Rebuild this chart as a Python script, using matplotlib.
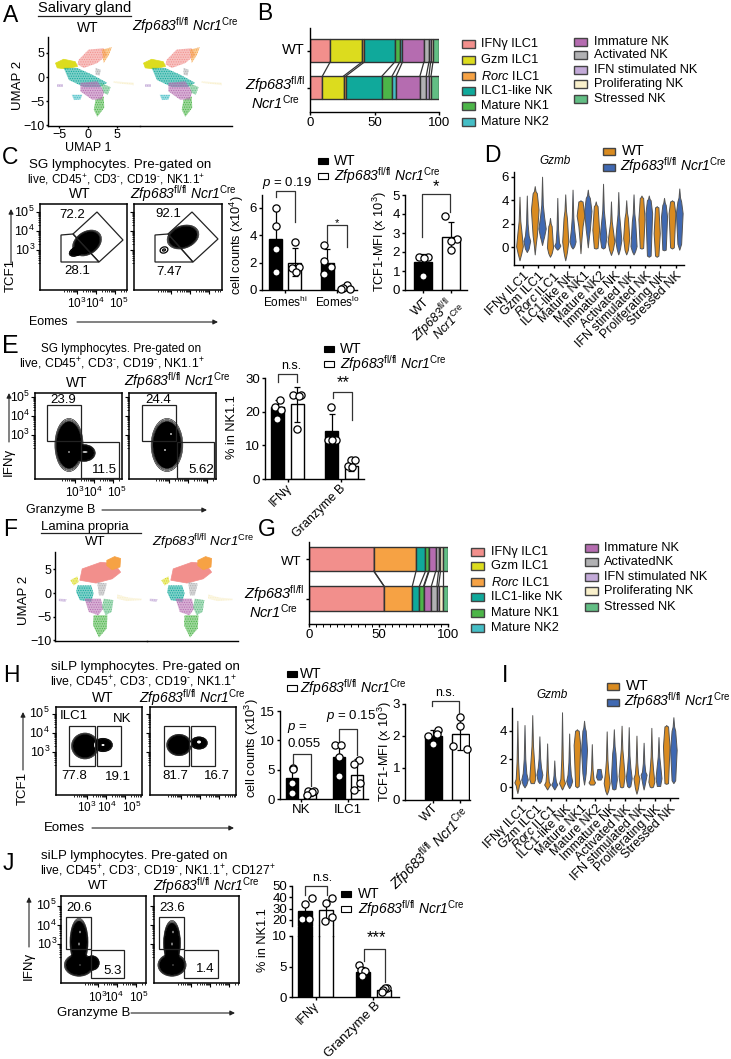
import numpy as np
import matplotlib
matplotlib.use('Agg')
import matplotlib.pyplot as plt
from matplotlib.colors import to_rgba
from matplotlib.patches import Ellipse, Polygon, Rectangle

plt.rcParams['font.family'] = ['Liberation Sans', 'DejaVu Sans']
plt.rcParams['mathtext.fontset'] = 'custom'
plt.rcParams['mathtext.rm'] = 'Liberation Sans'
plt.rcParams['mathtext.it'] = 'Liberation Sans:italic'
plt.rcParams['mathtext.sf'] = 'Liberation Sans:italic'
plt.rcParams['mathtext.bf'] = 'Liberation Sans:bold'
plt.rcParams['hatch.linewidth'] = 0.5

W, H = 731, 1059

# ---- cell types
cell_types = ['IFNγ ILC1', 'Gzm ILC1', 'Rorc ILC1', 'ILC1-like NK', 'Mature NK1', 'Mature NK2',
              'Immature NK', 'Activated NK', 'IFN stimulated NK', 'Proliferating NK', 'Stressed NK']
type_colors = ['#F28F8C', '#DCDC1E', '#F6A244', '#10A99B', '#4CB548', '#45BEC6',
               '#B56CB0', '#B1B1B3', '#C3AAD8', '#F9F0CB', '#62BE84']

# ---- stacked bars (percent of cells)
b_wt = [15.6, 24.7, 1.8, 23.6, 3.9, 2.1, 16.6, 3.9, 1.3, 1.8, 4.7]
b_ko = [9.6, 16.4, 1.8, 28.0, 7.8, 3.2, 18.4, 4.9, 2.1, 1.6, 6.2]
g_wt = [46.6, 0.2, 30.2, 6.8, 2.2, 0.4, 4.8, 2.0, 1.4, 1.7, 3.7]
g_ko = [54.0, 0.1, 20.2, 5.1, 3.0, 0.4, 5.2, 4.0, 1.2, 3.1, 3.7]

# ---- UMAP cluster outlines (UMAP units)
umap_sg = {
    'IFNγ ILC1': [(-1.6, 3.6), (0.1, 5.7), (2.7, 6.0), (3.3, 4.6), (1.6, 2.9), (-0.7, 1.9), (-1.8, 2.6)],
    'Gzm ILC1': [(-5.6, 2.9), (-4.2, 3.7), (-2.2, 3.2), (-1.8, 2.2), (-3.9, 1.7), (-5.3, 1.9)],
    'Rorc ILC1': [(2.4, 5.7), (4.1, 6.2), (3.6, 4.6), (2.7, 2.9)],
    'ILC1-like NK': [(-4.2, 1.9), (-1.9, 1.9), (0.7, 0.5), (3.3, -1.2), (2.1, -2.1), (-0.7, -2.1), (-3.3, -0.6)],
    'Mature NK1': [(1.3, -4.7), (2.7, -4.0), (2.8, -6.4), (1.6, -8.3), (1.0, -6.8)],
    'Mature NK2': [(-2.8, -3.7), (-1.0, -3.7), (-1.3, -4.7), (-2.4, -4.8)],
    'Immature NK': [(-1.3, -1.2), (1.6, -0.9), (2.8, -3.0), (2.4, -4.7), (0.7, -4.7), (-1.3, -3.0)],
    'Activated NK': [(1.3, 1.9), (2.2, 1.5), (2.0, 0.3), (1.3, 0.5)],
    'IFN stimulated NK': [(-5.3, -1.4), (-4.3, -1.4), (-4.3, -2.1), (-5.3, -2.1)],
    'Proliferating NK': [(4.4, -0.9), (7.9, -1.2), (7.9, -1.7), (4.4, -1.2)],
    'Stressed NK': [(2.1, -1.2), (3.9, -2.1), (3.4, -3.7), (2.7, -3.3)],
}
umap_lp = {
    'IFNγ ILC1': [(-2.3, 5.1), (0.8, 6.5), (3.1, 6.2), (4.1, 4.4), (2.7, 3.0), (0.0, 2.1), (-2.7, 2.7)],
    'Gzm ILC1': [(-4.3, 2.7), (-3.1, 3.5), (-2.9, 2.3), (-3.7, 1.6)],
    'Rorc ILC1': [(1.8, 6.9), (3.1, 7.7), (4.1, 7.3), (4.0, 5.5), (2.7, 4.9), (1.8, 5.8)],
    'ILC1-like NK': [(-3.1, 1.6), (-0.8, 1.6), (-0.4, -0.1), (-0.8, -1.9), (-2.7, -1.5), (-3.3, 0.2)],
    'Mature NK1': [(-0.4, -4.7), (1.9, -4.7), (1.8, -7.5), (0.5, -9.4), (-0.5, -6.8)],
    'Immature NK': [(-1.9, -1.2), (0.8, -1.2), (1.2, -3.3), (0.4, -4.7), (-1.2, -4.0)],
    'Activated NK': [(0.2, 2.3), (1.8, 2.0), (1.3, -0.5), (0.5, -0.5)],
    'IFN stimulated NK': [(-6.2, -1.2), (-4.9, -1.3), (-5.1, -1.9), (-6.2, -1.7)],
    'Proliferating NK': [(3.5, -0.3), (5.5, -1.0), (7.6, -1.2), (7.6, -1.5), (5.1, -1.7), (3.5, -1.2)],
    'Stressed NK': [(1.3, -1.2), (2.9, -1.5), (2.6, -4.0), (1.6, -4.7), (1.0, -3.0)],
}
solid_sg = ['Gzm ILC1']
solid_lp = ['IFNγ ILC1', 'Rorc ILC1']

# ---- violins: low tip, lower body, widest, upper body, high tip, half width
d_wt = [(-1.1, -0.5, 0.1, 1.4, 4.3, .22), (-0.6, 1.0, 3.2, 4.6, 5.2, .25), (-0.8, -0.5, 0.0, 1.8, 2.5, .20),
        (-1.1, -0.4, 0.5, 2.5, 4.5, .20), (-0.5, 1.8, 2.7, 3.9, 4.0, .25), (-0.1, -0.05, 1.5, 3.5, 3.9, .22),
        (-0.65, -0.2, 0.5, 1.5, 3.9, .22), (-0.6, -0.2, 0.8, 2.5, 4.0, .20), (-0.1, -0.05, 2.4, 4.2, 4.4, .20),
        (-0.8, -0.7, 1.2, 3.4, 3.5, .20), (-0.1, 0.0, 2.9, 3.9, 4.0, .22)]
d_ko = [(-0.4, -0.1, 0.55, 1.0, 4.4, .22), (0.2, 0.9, 1.6, 2.6, 6.0, .24), (-0.2, -0.05, 0.15, 0.4, 4.2, .20),
        (-0.1, 0.1, 0.5, 1.5, 4.9, .20), (0.0, 1.5, 3.1, 4.2, 4.9, .24), (-0.1, 0.0, 0.9, 2.2, 5.4, .22),
        (-0.6, -0.1, 0.6, 2.0, 4.7, .20), (-0.6, -0.3, 0.1, 2.2, 4.5, .20), (-0.8, -0.7, 2.9, 4.0, 4.4, .22),
        (-0.25, -0.2, 2.6, 3.6, 4.2, .20), (-0.2, 0.3, 2.9, 3.9, 5.0, .22)]
i_wt = [(-0.4, 0.15, 0.35, 0.6, 4.7, .20), (0.3, 0.3, 0.6, 2.0, 5.1, .20), (-0.15, 0.05, 0.2, 0.4, 3.1, .20),
        (-0.15, 0.1, 0.3, 0.6, 5.3, .20), (0.0, 0.1, 3.0, 4.0, 4.1, .22), (0.2, 0.2, 0.35, 0.55, 3.05, .22),
        (-0.5, -0.2, 0.3, 1.1, 3.95, .20), (0.0, 0.05, 0.8, 2.0, 4.35, .20), (-0.45, 0.0, 0.65, 0.95, 3.65, .20),
        (0.0, 0.05, 0.4, 1.3, 4.2, .20), (0.25, 0.3, 2.9, 4.3, 4.4, .22)]
i_ko = [(0.0, 0.2, 0.55, 1.0, 4.4, .22), (0.3, 0.45, 0.9, 1.4, 3.6, .20), (-0.15, 0.05, 0.2, 0.4, 1.9, .20),
        (-0.05, 0.15, 0.45, 0.9, 3.8, .20), (0.2, 1.0, 2.65, 4.0, 4.7, .20), (0.55, 0.55, 0.75, 1.3, 1.3, .20),
        (-0.15, -0.1, 0.55, 2.4, 4.1, .20), (0.0, 0.1, 0.65, 1.4, 4.25, .20), (-0.15, 0.4, 0.9, 1.1, 3.15, .20),
        (0.1, 0.1, 0.65, 1.6, 3.55, .20), (0.3, 0.5, 2.65, 4.0, 4.95, .22)]

# ---- bars: mean, error low, error high, points (WT, KO, WT, KO)
c1_means = [3.7, 2.0, 2.0, 0.15]
c1_low = [1.5, 1.0, 1.1, 0.0]
c1_high = [5.9, 3.05, 3.0, 0.4]
c1_points = [[6.0, 4.65, 3.0, 1.3], [3.5, 1.7, 1.6, 1.3], [3.3, 2.1, 1.7, 1.2], [0.4, 0.15, 0.1, 0.05]]
c2_means = [1.45, 2.8]
c2_low = [1.0, 2.0]
c2_high = [1.9, 3.6]
c2_points = [[1.75, 1.75, 1.7, 0.75], [3.9, 2.7, 2.6, 2.1]]
e_means = [21.5, 22.2, 14.2, 3.9]
e_low = [19.0, 17.0, 9.5, 2.5]
e_high = [23.5, 27.3, 19.2, 5.5]
e_points = [[23.5, 21.5, 20.5, 17.8], [25.0, 25.0, 24.7, 15.0], [21.5, 11.5, 11.5, 11.5], [5.5, 5.5, 4.0, 3.5]]
h1_means = [3.5, 0.9, 7.2, 4.1]
h1_low = [1.8, 0.5, 5.0, 1.5]
h1_high = [5.2, 1.3, 9.5, 6.8]
h1_points = [[5.2, 5.1, 2.8, 1.0], [1.4, 1.3, 1.2, 0.6], [9.2, 9.2, 7.1, 4.0], [6.6, 6.0, 2.7, 1.6]]
h2_means = [2.0, 2.07]
h2_low = [1.8, 1.55]
h2_high = [2.2, 2.6]
h2_points = [[2.2, 2.05, 2.0, 1.75], [2.6, 2.3, 1.7, 1.6]]
j_means = [28.0, 28.5, 4.1, 1.1]
j_low = [20.0, 20.5, 3.4, 0.8]
j_high = [36.0, 36.5, 5.0, 1.5]
j_points = [[39.0, 34.0, 20.5, 20.5], [39.0, 35.0, 23.0, 19.5], [5.2, 4.4, 4.3, 3.5], [1.5, 1.45, 1.1, 0.9]]

# ---- flow plots, in picture pixels
c_gates_wt = [[(73, 234), (97, 212), (123, 240), (99, 262)], [(61, 235), (73, 234), (99, 262), (61, 262)]]
c_gates_ko = [[(168, 234), (192, 212), (218, 239), (193, 262)], [(155, 235), (168, 234), (193, 262), (155, 262)]]
c_blobs_wt = [(87, 243, 28, 20, -35), (77, 251, 15, 8, -25)]
c_blobs_ko = [(183, 237, 29, 20, -20)]
c_rings_ko = [(164, 250, 8, 6, -20), (164, 250, 3, 2, -20)]
e_gates_wt = [[(47, 405), (81, 405), (81, 441), (47, 441)], [(81, 442), (119, 442), (119, 478), (81, 478)]]
e_gates_ko = [[(142, 405), (176, 405), (176, 441), (142, 441)], [(177, 442), (214, 442), (214, 478), (177, 478)]]
e_blobs_wt = [(69, 445, 25, 47, 0), (84, 453, 20, 15, 0)]
e_blobs_ko = [(167, 445, 28, 47, 0)]
e_specks_wt = [(69, 452, 1.5, 1.5, 0), (85, 452, 5, 1.5, 0)]
e_specks_ko = [(165, 450, 1.5, 2, 0), (171, 434, 2, 1.5, 0)]
h_gates_wt = [[(69, 726), (95, 726), (95, 766), (69, 766)], [(97, 726), (121, 726), (121, 766), (97, 766)]]
h_gates_ko = [[(164, 726), (189, 726), (189, 766), (164, 766)], [(191, 726), (215, 726), (215, 766), (191, 766)]]
h_blobs_wt = [(85, 746, 24, 23, 0), (103, 745, 17, 12, 0)]
h_blobs_ko = [(179, 745, 22, 19, 0), (199, 743, 15, 11, 0)]
h_specks_wt = [(103, 745, 3, 2, 0), (95, 745, 2, 5, 0)]
h_specks_ko = [(199, 742, 4, 3, 0), (190, 744, 2, 4, 0)]
j_gates_wt = [[(66, 917), (91, 917), (91, 949), (66, 949)], [(91, 950), (124, 950), (124, 978), (91, 978)]]
j_gates_ko = [[(159, 917), (184, 917), (184, 949), (159, 949)], [(184, 950), (218, 950), (218, 978), (184, 978)]]
j_blobs_wt = [(79, 965, 26, 20, 0), (79, 942, 16, 42, 0), (92, 963, 13, 13, 0)]
j_blobs_ko = [(172, 965, 25, 20, 0), (172, 943, 15, 40, 0)]
j_specks_wt = [(80, 932, 1, 2.5, 0), (79, 944, 1, 3, 0), (80, 965, 1, 1, 0)]
j_specks_ko = [(173, 932, 1, 2.5, 0), (172, 944, 1, 3, 0), (173, 965, 1, 1, 0)]

ZFP = r'$\mathsf{Zfp683}^{\mathrm{fl/fl}}\ \mathsf{Ncr1}^{\mathrm{Cre}}$'
ZFP1 = r'$\mathsf{Zfp683}^{\mathrm{fl/fl}}$'
NCR = r'$\mathsf{Ncr1}^{\mathrm{Cre}}$'
LIVE = 'live, CD45$^{+}$, CD3$^{\u2010}$, CD19$^{\u2010}$, NK1.1$^{+}$'

fig = plt.figure(figsize=(W / 100, H / 100), dpi=100)


def px_axes(l, t, r, b):
    return fig.add_axes([l / W, 1 - b / H, (r - l) / W, (b - t) / H])


def clean(ax):
    ax.spines['top'].set_visible(False)
    ax.spines['right'].set_visible(False)
    ax.spines['left'].set_linewidth(1.0)
    ax.spines['bottom'].set_linewidth(1.0)
    ax.patch.set_alpha(0)
    ax.tick_params(length=2.5, width=1.0, pad=1, labelsize=9.5)


# overlay in picture pixels for all the loose text
ov = fig.add_axes([0, 0, 1, 1])
ov.set_xlim(0, W)
ov.set_ylim(H, 0)
ov.axis('off')
ov.set_zorder(10)


def txt(x, y, s, size=9, ha='left', va='center', rot=0, style='normal'):
    ov.text(x, y, s, fontsize=size, ha=ha, va=va, rotation=rot, style=style, rotation_mode='anchor')


def arrow(x0, y0, x1, y1):
    ov.annotate('', xy=(x1, y1), xytext=(x0, y0),
                arrowprops=dict(arrowstyle='-|>', lw=0.8, color='#222222', mutation_scale=7, shrinkA=0, shrinkB=0))


def bracket(x0, x1, y, y0, y1):
    ov.plot([x0, x0, x1, x1], [y0, y, y, y1], color='#333333', lw=0.9)


def umap_panel(l, t, r, b, offset, x0_px, px_per_x, ylim, yticks, clusters, solid):
    ax = px_axes(l, t, r, b)
    ax.set_xlim((l - x0_px) / px_per_x, (r - x0_px) / px_per_x)
    ax.set_ylim(*ylim)
    for name, outline in clusters.items():
        col = type_colors[cell_types.index(name)]
        if name in solid:
            ax.add_patch(Polygon(outline, facecolor=col, edgecolor=col, lw=0.5))
        else:
            ax.add_patch(Polygon(outline, facecolor=to_rgba(col, 0.55), edgecolor=col, lw=0, hatch='.......'))
    clean(ax)
    ax.tick_params(length=1.5, pad=1, labelsize=9)
    ax.set_yticks(yticks if offset == 0 else [])
    ax.spines['left'].set_visible(offset == 0)
    return ax


def stacked(ax, y, values):
    left = 0
    for v, col in zip(values, type_colors):
        ax.barh(y, v, left=left, height=0.62, color=col, edgecolor='#333333', lw=1.0)
        left += v


def connect(ax, top, bottom):
    a = np.cumsum(top)
    c = np.cumsum(bottom)
    for x0, x1 in zip(a, c):
        ax.plot([x0, x1], [0.31, 0.69], color='#333333', lw=0.9)


def legend_col(x_box, x_text, ys, names, labels=None):
    for i, (y, name) in enumerate(zip(ys, names)):
        col = type_colors[cell_types.index(name)]
        ov.add_patch(Rectangle((x_box, y - 4), 12.5, 8, facecolor=col, edgecolor='#444444', lw=1.0))
        label = name if labels is None else labels[i]
        if name == 'Rorc ILC1':
            label = r'$\mathit{Rorc}$ ILC1'
        txt(x_text, y, label, size=9.2)


def flow_panel(l, t, r, b, gates, blobs, x1, y1, labels, specks=(), rings=()):
    ax = px_axes(l, t, r, b)
    ax.set_xlim(l, r)
    ax.set_ylim(b, t)
    for blob in blobs:
        cx, cy, w, h, ang = blob
        for k in [1.13, 1.08, 1.04]:
            ax.add_patch(Ellipse((cx, cy), w * k, h * k, angle=ang, fill=False, edgecolor='black', lw=0.4, zorder=2))
    for blob in blobs:
        cx, cy, w, h, ang = blob
        ax.add_patch(Ellipse((cx, cy), w, h, angle=ang, facecolor='black', edgecolor='black', lw=0.5, zorder=3))
    for cx, cy, w, h, ang in specks:
        ax.add_patch(Ellipse((cx, cy), w, h, angle=ang, facecolor='white', edgecolor='none', zorder=3.5))
    for cx, cy, w, h, ang in rings:
        ax.add_patch(Ellipse((cx, cy), w, h, angle=ang, fill=False, edgecolor='black', lw=0.9, zorder=3))
    for g in gates:
        ax.add_patch(Polygon(g, fill=False, edgecolor='#222222', lw=0.9, zorder=4))
    for spine in ax.spines.values():
        spine.set_linewidth(1.1)
    # log style ticks on the left and the bottom
    dec_y = 19
    dec_x = 19
    ymaj = [y1 - 2 * dec_y, y1 - dec_y, y1]
    xmaj = [x1, x1 + dec_x, x1 + 2 * dec_x]
    ymin = [m + dec_y - np.log10(i) * dec_y for m in ymaj for i in range(2, 10)]
    xmin = [m + np.log10(i) * dec_x for m in [x1 - dec_x] + xmaj for i in range(2, 10)]
    ax.set_xticks(xmaj, labels=[])
    ax.set_yticks(ymaj, labels=[])
    ax.set_xticks([v for v in xmin if l < v < r], minor=True)
    ax.set_yticks([v for v in ymin if t < v < b], minor=True)
    ax.tick_params(which='major', length=3, width=0.8, direction='out')
    ax.tick_params(which='minor', length=1.5, width=0.6, direction='out')
    ax.set_xlim(l, r)
    ax.set_ylim(b, t)
    for x, y, s in labels:
        txt(x, y, s, size=9.5, ha='center')
    return ax


def bar_panel(l, t, r, b, ylim, yticks, bar_x, bar_w, means, low, high, points, jitter, skip=()):
    ax = px_axes(l, t, r, b)
    ax.set_xlim(l, r)
    ax.set_ylim(*ylim)
    for i, x in enumerate(bar_x):
        ax.bar(x, means[i], width=bar_w, color='black' if i % 2 == 0 else 'white', edgecolor='black', lw=1.0, zorder=2)
        if i in skip:
            continue
        ax.errorbar(x, means[i], yerr=[[means[i] - low[i]], [high[i] - means[i]]], color='black', lw=0.9,
                    capsize=2.5, capthick=0.9, zorder=3, clip_on=False)
        ax.scatter(np.array(jitter[i]) + x, points[i], s=27, facecolor='white', edgecolor='black', lw=0.9, zorder=4,
                   clip_on=False)
    clean(ax)
    ax.set_yticks(yticks)
    return ax


def violins(ax, pos, shape, color):
    lo, b0, m, b1, hi, w = shape
    ys = [lo, lo + (b0 - lo) * 0.5, b0, m, b1, b1 + (hi - b1) * 0.3, hi]
    ws = [0, 0.06, 0.55 * w, w, 0.55 * w, 0.05, 0]
    ys = np.array(ys)
    ws = np.array(ws)
    ax.fill_betweenx(ys, pos - ws, pos + ws, facecolor=color, edgecolor='#555555', lw=0.7)


def violin_panel(l, t, r, b, ylim, yticks, wt, ko):
    ax = px_axes(l, t, r, b)
    for i in range(11):
        violins(ax, i - 0.24, wt[i], '#D98B20')
        violins(ax, i + 0.24, ko[i], '#4069B2')
    ax.set_xlim(-0.6, 10.55)
    ax.set_ylim(*ylim)
    clean(ax)
    ax.set_yticks(yticks)
    ax.set_xticks(range(11))
    labels = [r'$\mathit{Rorc}$ ILC1' if c == 'Rorc ILC1' else c for c in cell_types]
    ax.set_xticklabels(labels, rotation=45, ha='right', rotation_mode='anchor', fontsize=9)
    ax.tick_params(axis='x', pad=1)
    return ax


def small_legend(x_box, x_text, y1, y2, size=9.5):
    ov.add_patch(Rectangle((x_box, y1 - 3), 10, 6, facecolor='black', edgecolor='black', lw=0.8))
    ov.add_patch(Rectangle((x_box, y2 - 3), 10, 6, facecolor='white', edgecolor='black', lw=0.8))
    txt(x_text, y1, 'WT', size=size + 0.5)
    txt(x_text, y2, ZFP, size=size + 0.5)


def violin_legend(x_box, x_text, y1, y2, x_text2):
    ov.add_patch(Rectangle((x_box, y1 - 3.5), 12, 7, facecolor='#D98B20', edgecolor='#444444', lw=1.0))
    ov.add_patch(Rectangle((x_box, y2 - 3.5), 12, 7, facecolor='#4069B2', edgecolor='#444444', lw=1.0))
    txt(x_text, y1, 'WT', size=10.5)
    txt(x_text2, y2 - 1, ZFP, size=10)


# ---- A
ax = umap_panel(48, 37, 140, 126, 0, 88, 5.8, (-10.2, 8.33), [-10, -5, 0, 5], umap_sg, solid_sg)
ax.set_xticks([-5, 0, 5])
umap_panel(140, 37, 232, 126, 88, 176, 5.8, (-10.2, 8.33), [], umap_sg, solid_sg).set_xticks([])
txt(3, 16, 'A', size=16.5)
txt(38, 8, 'Salivary gland', size=10.6)
ov.plot([38, 131], [15.5, 15.5], color='#222222', lw=0.9)
txt(88, 28, 'WT', size=10, ha='center')
txt(185, 26, ZFP, size=10, ha='center')
txt(18, 85, 'UMAP 2', size=9.5, ha='center', rot=90)
txt(88, 148, 'UMAP 1', size=9, ha='center')

# ---- B
ax = px_axes(310, 28, 439, 112)
stacked(ax, 0, b_wt)
stacked(ax, 1, b_ko)
connect(ax, b_wt[:-1], b_ko[:-1])
ax.set_xlim(0, 100)
ax.set_ylim(1.66, -0.61)
clean(ax)
ax.set_xticks([0, 50, 100])
ax.set_yticks([0, 1], labels=[])
txt(257, 14, 'B', size=16.5)
txt(305, 50, 'WT', size=10.5, ha='right')
txt(305, 85, ZFP1, size=10.5, ha='right')
txt(300, 103, NCR, size=10.5, ha='right')
legend_col(462, 481, [44, 60, 76, 91, 106, 122], cell_types[:6])
legend_col(574, 594, [42, 55, 70, 84, 99], cell_types[6:])

# ---- C
txt(2, 158, 'C', size=16.5)
txt(29, 165, 'SG lymphocytes. Pre-gated on', size=9.6)
txt(27, 180, LIVE, size=8.5)
txt(80, 194, 'WT', size=10, ha='center')
txt(183, 194, ZFP, size=10, ha='center')
flow_panel(40, 204, 127, 290, c_gates_wt, c_blobs_wt, 77, 250,
           [(72, 215, '72.2'), (77, 271, '28.1')])
flow_panel(134, 204, 222, 290, c_gates_ko, c_blobs_ko, 171, 250,
           [(168, 214, '92.1'), (169, 272, '7.47')], rings=c_rings_ko)
for y, e in zip([212, 231, 250], '543'):
    txt(35, y, '10$^{%s}$' % e, size=9, ha='right')
for x, e in zip([77, 95, 119], '345'):
    txt(x, 303, '10$^{%s}$' % e, size=8.5, ha='center')
txt(29, 322, 'Eomes', size=9)
arrow(77, 322, 218, 322)
txt(11, 275, 'TCF1', size=9.5, ha='center', rot=90)
arrow(11, 263, 11, 209)

ax = bar_panel(262, 195, 357, 290, (0, 6.95), [0, 2, 4, 6], [275.5, 294.5, 327, 346], 13,
               c1_means, c1_low, c1_high, c1_points,
               [[0, 0, 0, 0], [0, 4, -3, 1], [-3, -3, 4, -3], [1, -3, 4, -5]])
ax.set_xticks([285, 337], labels=['Eomes$^{\\mathrm{hi}}$', 'Eomes$^{\\mathrm{lo}}$'], fontsize=8.5)
txt(237, 245, 'cell counts (x10$^{4}$)', size=9.2, ha='center', rot=90)
bracket(276, 295, 191, 197, 222)
txt(287, 183, r'$\mathit{p}$ = 0.19', size=9.5, ha='center')
bracket(327, 347, 225, 242, 247)
txt(337, 223, '*', size=8, ha='center')
small_legend(318, 334, 161, 176)

ax = bar_panel(405, 195, 467, 290, (0, 5), [0, 1, 2, 3, 4, 5], [423, 450.5], 18,
               c2_means, c2_low, c2_high, c2_points, [[-4, 5, 1, 0], [-6, 6, 0, 0]])
ax.set_xticks([423, 450.5], labels=[])
txt(380, 242, 'TCF1-MFI (x 10$^{3}$)', size=9.2, ha='center', rot=90)
bracket(422, 450, 194, 237, 212)
txt(436, 187, '*', size=12, ha='center')
txt(428, 300, 'WT', size=9, ha='right', rot=45)
txt(452, 302, ZFP1, size=9, ha='right', rot=45)
txt(465, 307, NCR, size=9, ha='right', rot=45)

# ---- D
violin_panel(514, 172, 684, 265, (-1.5, 6.4), [0, 2, 4, 6], d_wt, d_ko)
txt(484, 155, 'D', size=16.5)
txt(555, 161, 'Gzmb', size=8.5, ha='center', style='italic')
violin_legend(603, 622, 151, 167, 620)

# ---- E
txt(2, 346, 'E', size=18)
txt(41, 349, 'SG lymphocytes. Pre-gated on', size=8.5)
txt(19, 364, LIVE, size=8.8)
txt(77, 383, 'WT', size=10, ha='center')
txt(177, 381, ZFP, size=10, ha='center')
flow_panel(35, 393, 122, 479, e_gates_wt, e_blobs_wt, 75, 435,
           [(63, 400, '23.9'), (104, 470, '11.5')], specks=e_specks_wt)
flow_panel(129, 393, 216, 479, e_gates_ko, e_blobs_ko, 169, 435,
           [(158, 400, '24.4'), (201, 470, '5.62')], specks=e_specks_ko)
for y, e in zip([397, 416, 435], '543'):
    txt(30, y, '10$^{%s}$' % e, size=8.8, ha='right')
for x, e in zip([75, 93, 117], '345'):
    txt(x, 492, '10$^{%s}$' % e, size=8.5, ha='center')
txt(26, 510, 'Granzyme B', size=9)
arrow(102, 510, 207, 510)
txt(9, 462, 'IFNγ', size=9.5, ha='center', rot=90)
arrow(9, 442, 9, 393)

ax = bar_panel(265, 378, 364, 479, (0, 30), [0, 10, 20, 30], [277.5, 297, 331.5, 351], 13,
               e_means, e_low, e_high, e_points,
               [[2, -3, 3, -1], [-4, 4, 2, 0], [-1, -4, 4, 0], [0, 4, -3, 1]])
ax.set_xticks([287.5, 341], labels=[])
txt(232, 427, '% in NK1.1', size=9.2, ha='center', rot=90)
bracket(278, 297, 374, 382, 382)
txt(291, 366, 'n.s.', size=9, ha='center')
bracket(333, 352, 392, 398, 420)
txt(343, 383, '**', size=12, ha='center')
txt(290, 486, 'IFNγ', size=9, ha='right', rot=45)
txt(344, 487, 'Granzyme B', size=9, ha='right', rot=45)
small_legend(324, 340, 349, 364)

# ---- F
umap_panel(55, 552, 147, 641, 0, 96, 6.0, (-10.15, 8.67), [-10, -5, 0, 5], umap_lp, solid_lp).set_xticks([])
umap_panel(147, 552, 238, 641, 91, 187, 6.0, (-10.15, 8.67), [], umap_lp, solid_lp).set_xticks([])
txt(3, 529, 'F', size=16.5)
txt(41, 527, 'Lamina propria', size=9.5)
ov.plot([41, 141], [533, 533], color='#222222', lw=0.9)
txt(95, 542, 'WT', size=9.5, ha='center')
txt(203, 542, ZFP, size=9.5, ha='center')
txt(24, 600, 'UMAP 2', size=9.5, ha='center', rot=90)

# ---- G
ax = px_axes(309, 542, 448, 624)
stacked(ax, 0, g_wt)
stacked(ax, 1, g_ko)
connect(ax, g_wt[:-1], g_ko[:-1])
ax.set_xlim(0, 100)
ax.set_ylim(1.645, -0.43)
clean(ax)
ax.set_xticks([0, 50, 100])
ax.set_xticks(range(0, 101, 5), minor=True)
ax.tick_params(which='minor', length=2, width=0.7)
ax.set_yticks([0, 1], labels=[])
txt(258, 530, 'G', size=16.5)
txt(301, 562, 'WT', size=9.5, ha='right')
txt(304, 594, ZFP1, size=10.5, ha='right')
txt(298, 612, NCR, size=10.5, ha='right')
legend_col(471, 491, [552, 566, 582, 597, 613, 628], cell_types[:6])
legend_col(585, 604, [548, 562, 577, 591, 607], cell_types[6:],
           labels=['Immature NK', 'ActivatedNK', 'IFN stimulated NK', 'Proliferating NK', 'Stressed NK'])

# ---- H
txt(3, 675, 'H', size=16.5)
txt(51, 667, 'siLP lymphocytes. Pre-gated on', size=9.6)
txt(50, 682, LIVE, size=8.9)
txt(103, 698, 'WT', size=10, ha='center')
txt(192, 698, ZFP, size=10, ha='center')
flow_panel(56, 707, 142, 795, h_gates_wt, h_blobs_wt, 87, 752,
           [(74, 776, '77.8'), (118, 777, '19.1'), (74, 716, 'ILC1'), (122, 719, 'NK')], specks=h_specks_wt)
flow_panel(150, 707, 236, 795, h_gates_ko, h_blobs_ko, 181, 752,
           [(175, 776, '81.7'), (217, 776, '16.7')], specks=h_specks_ko)
for y, e in zip([713, 733, 752], '543'):
    txt(50, y, '10$^{%s}$' % e, size=9, ha='right')
for x, e in zip([87, 107, 132], '345'):
    txt(x, 807, '10$^{%s}$' % e, size=8.5, ha='center')
txt(44, 828, 'Eomes', size=9.5)
arrow(92, 828, 234, 828)
txt(23, 788, 'TCF1', size=9.5, ha='center', rot=90)
arrow(23, 770, 23, 712)

ax = bar_panel(280, 711, 368, 799, (0, 15), [0, 5, 10, 15], [292, 310, 339, 356.5], 12,
               h1_means, h1_low, h1_high, h1_points,
               [[1, 1, 0, 0], [4, -2, 2, -3], [-4, 2, 0, 0], [2, -3, 3, -3]])
ax.set_xticks([301, 348], labels=['NK', 'ILC1'], fontsize=9.5)
txt(252, 748, 'cell counts (x10$^{3}$)', size=9.2, ha='center', rot=90)
bracket(293, 311, 754, 765, 786)
txt(297, 728, r'$\mathit{p}$ =', size=9.5, ha='center')
txt(304, 744, '0.055', size=9.5, ha='center')
bracket(339, 357, 729, 741, 755)
txt(351, 716, r'$\mathit{p}$ = 0.15', size=9.5, ha='center')
small_legend(287, 300, 674, 688)

ax = bar_panel(405, 704, 470, 800, (0, 3), [0, 1, 2, 3], [433, 460], 17,
               h2_means, h2_low, h2_high, h2_points, [[5, 4, -5, 0], [0, 0, -7, 7]])
ax.set_xticks([433, 460], labels=[])
txt(385, 752, 'TCF1-MFI (x 10$^{3}$)', size=9.2, ha='center', rot=90)
bracket(432, 459, 701, 706, 713)
txt(445, 693, 'n.s.', size=9, ha='center')
txt(437, 806, 'WT', size=9, ha='right', rot=45)
txt(468, 811, ZFP, size=10, ha='right', rot=45)

# ---- I
violin_panel(512, 708, 678, 798, (-0.75, 5.6), [0, 2, 4], i_wt, i_ko)
txt(502, 675, 'I', size=16.5)
txt(552, 695, 'Gzmb', size=8.5, ha='center', style='italic')
violin_legend(607, 626, 686, 702, 624)

# ---- J
txt(3, 863, 'J', size=16.5)
txt(41, 856, 'siLP lymphocytes. Pre-gated on', size=9.5)
txt(40, 871, 'live, CD45$^{+}$, CD3$^{\u2010}$, CD19$^{\u2010}$, NK1.1$^{+}$, CD127$^{+}$', size=8.8)
txt(98, 886, 'WT', size=9.5, ha='center')
txt(206, 886, ZFP, size=10, ha='center')
flow_panel(61, 896, 146, 983, j_gates_wt, j_blobs_wt, 98, 944,
           [(79, 908, '20.6'), (113, 971, '5.3')], specks=j_specks_wt)
flow_panel(154, 896, 239, 983, j_gates_ko, j_blobs_ko, 191, 944,
           [(172, 908, '23.6'), (205, 969, '1.4')], specks=j_specks_ko)
for y, e in zip([905, 926, 944], '543'):
    txt(57, y, '10$^{%s}$' % e, size=9, ha='right')
for x, e in zip([98, 114, 139], '345'):
    txt(x, 997, '10$^{%s}$' % e, size=8.5, ha='center')
txt(57, 1013, 'Granzyme B', size=9.5)
arrow(131, 1013, 235, 1013)
txt(29, 966, 'IFNγ', size=9.5, ha='center', rot=90)
arrow(29, 947, 29, 897)

j_x = [305, 326, 362.5, 384.5]
j_jit = [[7, 0, -3, 4], [6, 0, 6, -1], [-3, -1, 3, 0], [3, 1, -1, -2]]
ax = bar_panel(292, 936, 399, 997, (0, 10), [0, 5, 10], j_x, 14,
               j_means, j_low, j_high, j_points, j_jit, skip=(0, 1))
ax.set_xticks([315.5, 373.5], labels=[])
ax2 = px_axes(292, 886, 399, 926)
ax2.set_xlim(292, 399)
ax2.set_ylim(14.7, 50)
for i in [0, 1]:
    x = j_x[i]
    ax2.bar(x, j_means[i], width=14, color='black' if i == 0 else 'white', edgecolor='black', lw=1.0, zorder=2)
    ax2.errorbar(x, j_means[i], yerr=[[j_means[i] - j_low[i]], [j_high[i] - j_means[i]]], color='black', lw=0.9,
                 capsize=2.5, zorder=3)
    ax2.scatter(np.array(j_jit[i]) + x, j_points[i], s=27, facecolor='white', edgecolor='black', lw=0.9, zorder=4,
                clip_on=False)
clean(ax2)
ax2.spines['bottom'].set_visible(False)
ax2.set_xticks([])
ax2.set_yticks([20, 30, 40, 50])
# bars run on through the gap of the broken axis
ov.add_patch(Rectangle((j_x[0] - 7, 926), 14, 10, facecolor='black', edgecolor='black', lw=1.0))
ov.plot([j_x[1] - 7, j_x[1] - 7], [926, 936], color='black', lw=1.0)
ov.plot([j_x[1] + 7, j_x[1] + 7], [926, 936], color='black', lw=1.0)
txt(263, 940, '% in NK1.1', size=9.2, ha='center', rot=90)
bracket(305, 327, 886, 895, 895)
txt(322, 878, 'n.s.', size=9, ha='center')
bracket(364, 385, 949, 961, 982)
txt(376, 938, '***', size=12, ha='center')
txt(317, 1004, 'IFNγ', size=9, ha='right', rot=45)
txt(379, 1004, 'Granzyme B', size=9.5, ha='right', rot=45)
small_legend(341, 358, 894, 909)

fig.savefig('out.png', dpi=100)
